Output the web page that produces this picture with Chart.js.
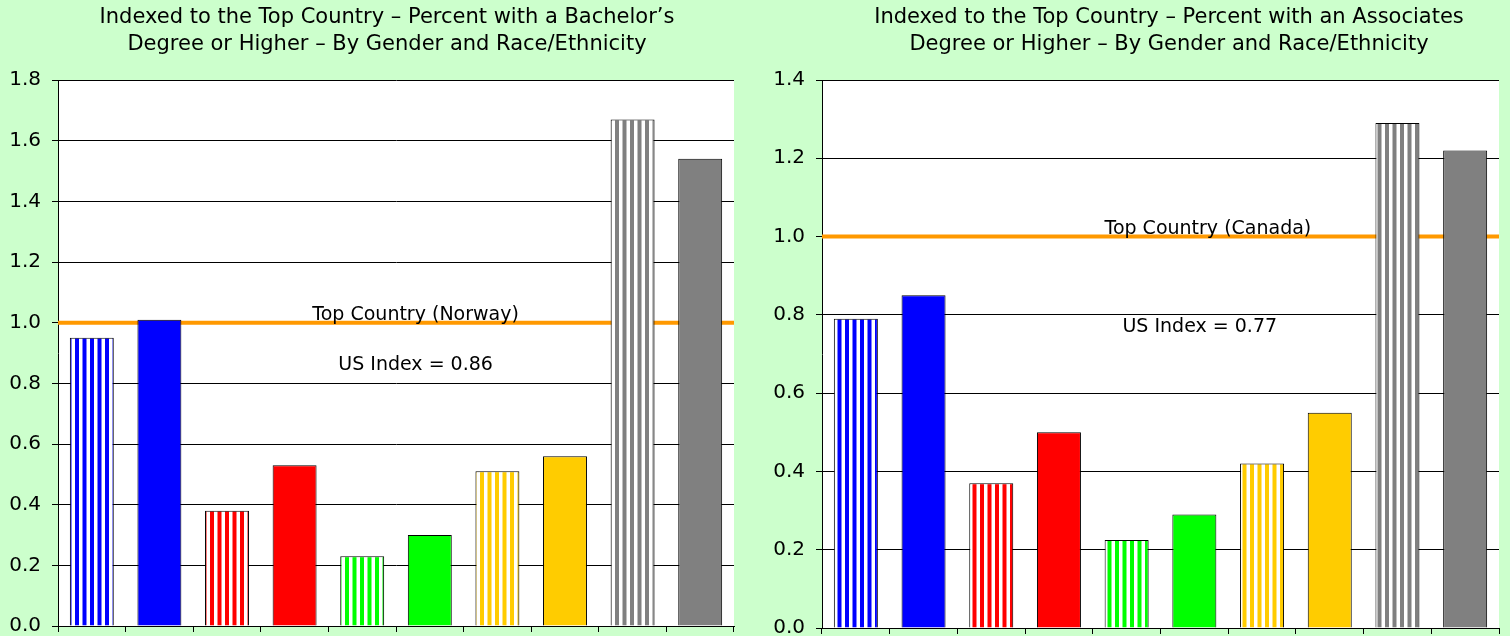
<!DOCTYPE html>
<html>
<head>
<meta charset="utf-8">
<script src="https://cdn.jsdelivr.net/npm/chart.js@4.4.0/dist/chart.umd.min.js"></script>
<style>
  html, body { margin: 0; padding: 0; background: #ccffcc; }
  #wrap { position: relative; width: 1510px; height: 636px; overflow: hidden; }
  .panel { position: absolute; top: 0; width: 755px; height: 636px; }
</style>
</head>
<body>
<div id="wrap">
  <div class="panel" style="left:0"><canvas id="bachelor"></canvas></div>
  <div class="panel" style="left:755px"><canvas id="associates"></canvas></div>
</div>
<script>
// groups are unlabeled in the picture: pairs of striped/solid bars per colour
const groups = ['Blue striped', 'Blue solid', 'Red striped', 'Red solid', 'Green striped',
  'Green solid', 'Yellow striped', 'Yellow solid', 'Grey striped', 'Grey solid'];
const groupColors = ['#0000ff', '#0000ff', '#ff0000', '#ff0000', '#00ff00',
  '#00ff00', '#ffcc00', '#ffcc00', '#808080', '#808080'];
const groupStriped = [true, false, true, false, true, false, true, false, true, false];

const bachelorIndex = [0.95, 1.01, 0.38, 0.53, 0.23, 0.30, 0.51, 0.56, 1.67, 1.54];
const associatesIndex = [0.79, 0.85, 0.37, 0.50, 0.225, 0.29, 0.42, 0.55, 1.29, 1.22];

const bachelorAxisMax = 1.8;
const associatesAxisMax = 1.4;
const axisStep = 0.2;

const topCountryLevel = 1.0;
const bachelorTopCountry = 'Top Country (Norway)';
const associatesTopCountry = 'Top Country (Canada)';
const bachelorUsIndex = 0.86;
const associatesUsIndex = 0.77;

const bachelorTitle = ['Indexed to the Top Country \u2013 Percent with a Bachelor\u2019s',
  'Degree or Higher \u2013 By Gender and Race/Ethnicity'];
const associatesTitle = ['Indexed to the Top Country \u2013 Percent with an Associates',
  'Degree or Higher \u2013 By Gender and Race/Ethnicity'];

const FONT = '"DejaVu Sans", Verdana, sans-serif';

// vertical stripes: colour on white
function stripes(color) {
  const c = document.createElement('canvas');
  c.width = 15;
  c.height = 4;
  const g = c.getContext('2d');
  g.fillStyle = '#fff';
  g.fillRect(0, 0, 15, 4);
  g.fillStyle = color;
  g.fillRect(0, 0, 4, 4);
  g.fillRect(7.5, 0, 4, 4);
  return g.createPattern(c, 'repeat');
}

const barFills = groupColors.map((c, i) => groupStriped[i] ? stripes(c) : c);

// white plot area
const plotBackground = {
  id: 'plotBackground',
  beforeDraw(chart) {
    const { ctx, chartArea: a } = chart;
    ctx.save();
    ctx.fillStyle = '#fff';
    ctx.fillRect(a.left, a.top, a.right - a.left, a.bottom - a.top);
    ctx.restore();
  }
};

// orange reference line at the top-country level, behind the bars
const topCountryLine = {
  id: 'topCountryLine',
  beforeDatasetsDraw(chart, args, opts) {
    const { ctx, chartArea: a, scales } = chart;
    const y = scales.y.getPixelForValue(opts.level);
    ctx.save();
    ctx.strokeStyle = '#ff9900';
    ctx.lineWidth = 4;
    ctx.beginPath();
    ctx.moveTo(a.left, y);
    ctx.lineTo(a.right, y);
    ctx.stroke();
    ctx.restore();
  }
};

const notes = {
  id: 'notes',
  afterDatasetsDraw(chart, args, opts) {
    const { ctx, chartArea: a, scales } = chart;
    const w = a.right - a.left;
    ctx.save();
    ctx.font = '19px ' + FONT;
    ctx.fillStyle = '#000';
    ctx.textAlign = 'center';
    ctx.textBaseline = 'alphabetic';
    ctx.fillText(opts.topLabel, a.left + w * opts.topX, scales.y.getPixelForValue(opts.level) - 3);
    ctx.textBaseline = 'middle';
    ctx.fillText('US Index = ' + opts.usIndex.toFixed(2), a.left + w * opts.usX,
      scales.y.getPixelForValue(opts.usIndex));
    ctx.restore();
  }
};

const panelTitle = {
  id: 'panelTitle',
  afterDraw(chart, args, opts) {
    const { ctx } = chart;
    ctx.save();
    ctx.font = '21px ' + FONT;
    ctx.fillStyle = '#000';
    ctx.textAlign = 'center';
    ctx.textBaseline = 'alphabetic';
    opts.lines.forEach((line, i) => ctx.fillText(line, opts.x, 23 + i * 26.5));
    ctx.restore();
  }
};

function makeChart(id, values, axisMax, cfg) {
  return new Chart(document.getElementById(id), {
    type: 'bar',
    data: {
      labels: groups,
      datasets: [{
        data: values,
        backgroundColor: barFills,
        borderColor: '#000',
        borderWidth: 1,
        barPercentage: 0.65,
        categoryPercentage: 1
      }]
    },
    options: {
      responsive: true,
      maintainAspectRatio: false,
      animation: false,
      layout: { padding: { left: 0, right: cfg.padRight, top: 80, bottom: 0 } },
      plugins: {
        legend: { display: false },
        tooltip: { enabled: false },
        topCountryLine: { level: topCountryLevel },
        notes: {
          level: topCountryLevel,
          topLabel: cfg.topLabel,
          usIndex: cfg.usIndex,
          topX: cfg.topX,
          usX: cfg.usX
        },
        panelTitle: { lines: cfg.title, x: cfg.titleX }
      },
      scales: {
        x: {
          grid: { drawOnChartArea: false, color: '#000', tickLength: 6 },
          border: { color: '#000', width: 1 },
          ticks: { display: false },
          afterFit(scale) { scale.height = cfg.xHeight; }
        },
        y: {
          min: 0,
          max: axisMax,
          grid: { color: '#000', lineWidth: 1, tickLength: 6 },
          border: { color: '#000', width: 1 },
          ticks: {
            stepSize: axisStep,
            padding: 11,
            color: '#000',
            font: { family: FONT, size: 20 },
            callback: (v) => Number(v).toFixed(1)
          },
          afterFit(scale) {
            scale.width = cfg.yWidth;
            // let the 0.0 label hang below the plot like the original
            scale.paddingTop = 0;
            scale.paddingBottom = 0;
          }
        }
      }
    },
    plugins: [plotBackground, topCountryLine, notes, panelTitle]
  });
}

makeChart('bachelor', bachelorIndex, bachelorAxisMax, {
  padRight: 21, yWidth: 58, xHeight: 10,
  topLabel: bachelorTopCountry, usIndex: bachelorUsIndex, topX: 0.529, usX: 0.529,
  title: bachelorTitle, titleX: 387
});

makeChart('associates', associatesIndex, associatesAxisMax, {
  padRight: 11, yWidth: 67, xHeight: 8,
  topLabel: associatesTopCountry, usIndex: associatesUsIndex, topX: 0.570, usX: 0.558,
  title: associatesTitle, titleX: 414
});
</script>
</body>
</html>
